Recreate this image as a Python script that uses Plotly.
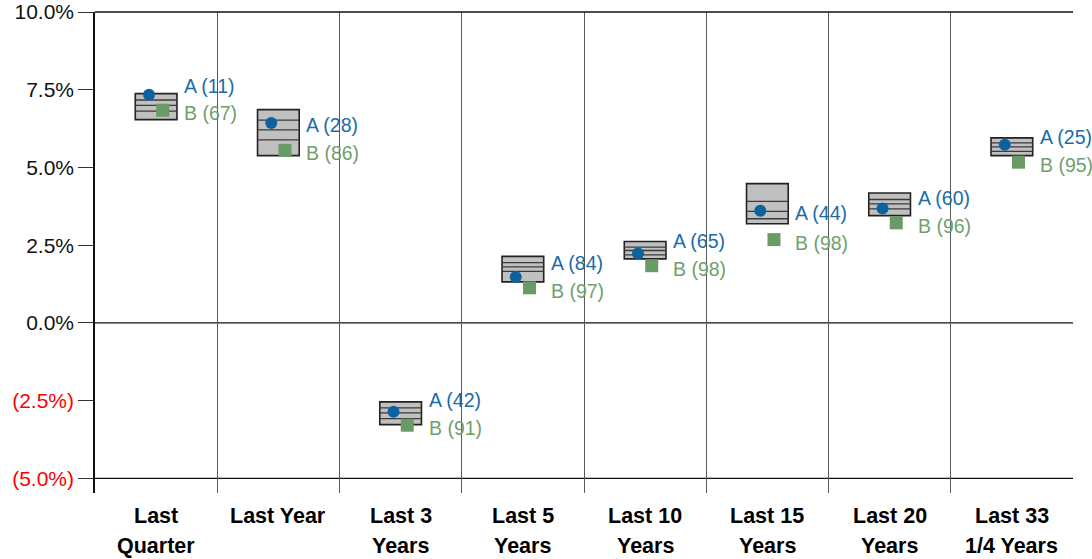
import plotly.graph_objects as go

# ---- data ----
categories = ["Last Quarter", "Last Year", "Last 3 Years", "Last 5 Years",
              "Last 10 Years", "Last 15 Years", "Last 20 Years", "Last 33 1/4 Years"]
label_line1 = ["Last", "Last Year", "Last 3", "Last 5", "Last 10", "Last 15", "Last 20", "Last 33"]
label_line2 = ["Quarter", "", "Years", "Years", "Years", "Years", "Years", "1/4 Years"]

box_top = [7.375, 6.86, -2.54, 2.14, 2.62, 4.48, 4.18, 5.95]
box_q1 = [7.17, 6.52, -2.73, 1.94, 2.44, 3.91, 3.97, 5.79]
box_med = [7.00, 6.21, -2.89, 1.80, 2.33, 3.59, 3.83, 5.66]
box_q3 = [6.81, 5.89, -3.08, 1.66, 2.19, 3.35, 3.67, 5.52]
box_bottom = [6.54, 5.38, -3.27, 1.32, 2.06, 3.19, 3.45, 5.38]

series_a = [7.34, 6.43, -2.86, 1.48, 2.23, 3.61, 3.68, 5.73]
rank_a = [11, 28, 42, 84, 65, 44, 60, 25]
series_b = [6.84, 5.55, -3.29, 1.13, 1.84, 2.68, 3.22, 5.17]
rank_b = [67, 86, 91, 97, 98, 98, 96, 95]

y_ticks = [10.0, 7.5, 5.0, 2.5, 0.0, -2.5, -5.0]

# ---- styling ----
FONT = "Liberation Sans, Arial, sans-serif"
BLUE = "#0b629f"
BLUE_TXT = "#1a6ca9"
GREEN = "#6a9a66"
GREEN_TXT = "#6f9f6c"
BOX_W = 0.341
A_OFF = -0.058
B_OFF = 0.054
LBL_OFF = 0.212
MIN_GAP = 0.86

n = len(categories)
centers = [i + 0.5 for i in range(n)]

fig = go.Figure()

# boxes
fig.add_trace(go.Bar(
    x=centers,
    y=[t - b for t, b in zip(box_top, box_bottom)],
    base=box_bottom,
    width=BOX_W,
    marker=dict(color="#c0c0c0", line=dict(color="#222222", width=1.6)),
    hoverinfo="skip",
))

# inner lines
lx, ly = [], []
for c, q1, m, q3 in zip(centers, box_q1, box_med, box_q3):
    for v in (q1, m, q3):
        lx += [c - BOX_W / 2, c + BOX_W / 2, None]
        ly += [v, v, None]
fig.add_trace(go.Scatter(x=lx, y=ly, mode="lines",
                         line=dict(color="#3a3a3a", width=1.3), hoverinfo="skip"))

# markers
fig.add_trace(go.Scatter(x=[c + A_OFF for c in centers], y=series_a, mode="markers",
                         marker=dict(symbol="circle", size=12, color=BLUE), hoverinfo="skip"))
fig.add_trace(go.Scatter(x=[c + B_OFF for c in centers], y=series_b, mode="markers",
                         marker=dict(symbol="square", size=13, color=GREEN), hoverinfo="skip"))

# point labels
annotations = []
for c, a, b, ra, rb in zip(centers, series_a, series_b, rank_a, rank_b):
    la = max(a, b + MIN_GAP)
    annotations.append(dict(x=c + LBL_OFF, y=la, xref="x", yref="y", text=f"A ({ra})",
                            showarrow=False, xanchor="left", yanchor="middle", yshift=-2,
                            font=dict(family=FONT, size=19.5, color=BLUE_TXT)))
    annotations.append(dict(x=c + LBL_OFF, y=b, xref="x", yref="y", text=f"B ({rb})",
                            showarrow=False, xanchor="left", yanchor="middle", yshift=-3,
                            font=dict(family=FONT, size=19.5, color=GREEN_TXT)))

# category labels
for c, t1, t2 in zip(centers, label_line1, label_line2):
    annotations.append(dict(x=c, y=-0.0478, xref="x", yref="paper", text=f"<b>{t1}</b>",
                            showarrow=False, xanchor="center", yanchor="middle",
                            font=dict(family=FONT, size=21.5, color="black")))
    if t2:
        annotations.append(dict(x=c, y=-0.110, xref="x", yref="paper", text=f"<b>{t2}</b>",
                                showarrow=False, xanchor="center", yanchor="middle",
                                font=dict(family=FONT, size=21.5, color="black")))

# horizontal reference lines
shapes = [dict(type="line", xref="paper", yref="paper", x0=0, x1=1, y0=1, y1=1,
               line=dict(color="#111111", width=1.4))]
for v in (0.0, -5.0):
    shapes.append(dict(type="line", xref="paper", yref="y", x0=0, x1=1, y0=v, y1=v,
                       line=dict(color="#111111", width=1.4), layer="below"))


def fmt(v):
    if v < 0:
        return f'<span style="color:#ff0000">({abs(v):.1f}%)</span>'
    return f"{v:.1f}%"


fig.update_layout(
    width=1092, height=559, autosize=False,
    margin=dict(l=95, r=19, t=12, b=66, autoexpand=False),
    paper_bgcolor="white", plot_bgcolor="white",
    showlegend=False,
    font=dict(family=FONT, size=21, color="#111111"),
    annotations=annotations,
    shapes=shapes,
    xaxis=dict(range=[0, n], tickvals=list(range(n + 1)), showticklabels=False,
               showgrid=True, gridcolor="#5a5a5a", gridwidth=1, zeroline=False,
               ticks="", showline=False, fixedrange=True, automargin=False),
    yaxis=dict(range=[-5.47, 10.0], tickvals=y_ticks, ticktext=[fmt(v) for v in y_ticks],
               showgrid=False, zeroline=False, showline=True, linecolor="#111111", linewidth=1.5,
               ticks="outside", ticklen=15, tickcolor="#333333", tickwidth=1.2,
               tickfont=dict(family=FONT, size=21, color="#111111"), fixedrange=True,
               automargin=False, ticklabeloverflow="allow"),
)

fig.write_html("out.html", config={"displayModeBar": False},
               post_script="document.body.style.margin='0';document.body.style.overflow='hidden';")
